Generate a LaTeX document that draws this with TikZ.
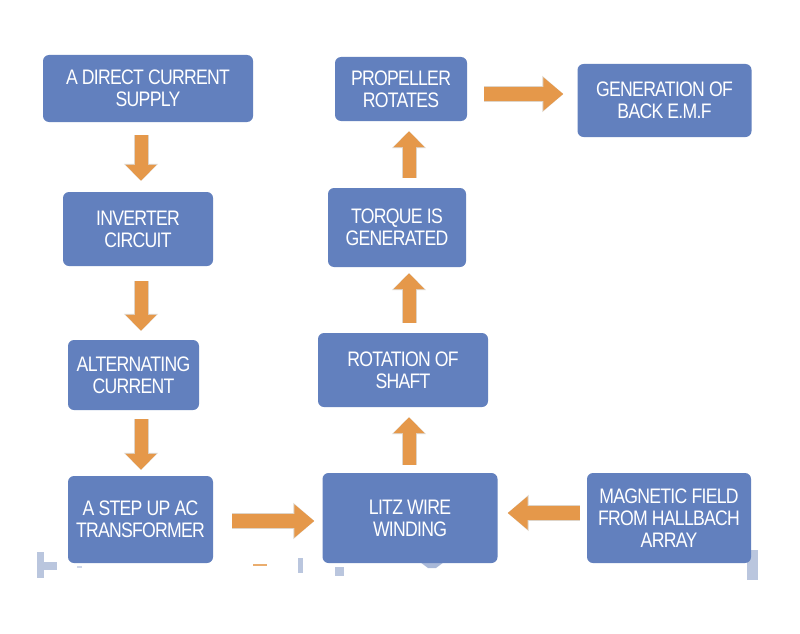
\documentclass[tikz,border=0pt]{standalone}
\usepackage{fontspec}
\setmainfont{Liberation Sans}[FakeStretch=0.84,LetterSpace=-3.5]
\usetikzlibrary{arrows.meta}
\definecolor{boxblue}{RGB}{98,128,190}
\definecolor{arrorange}{RGB}{229,152,74}
\definecolor{shadowtan}{RGB}{222,212,200}
\definecolor{faintblue}{RGB}{186,198,222}
\definecolor{tabblue}{RGB}{168,184,216}
\tikzset{
  stagebox/.style={draw=none, fill=boxblue, rounded corners=6pt, text=white,
    align=center, inner sep=2pt, font=\fontsize{21}{22}\selectfont},
  blockvert/.style={line width=13pt, -{Triangle[width=30pt,length=16pt]}, arrorange},
  blockhoriz/.style={line width=14pt, -{Triangle[width=32pt,length=20pt]}, arrorange},
  vshadow/.style={line width=15pt, -{Triangle[width=33pt,length=17pt]}, shadowtan},
  hshadow/.style={line width=16pt, -{Triangle[width=35pt,length=21pt]}, shadowtan},
}
\begin{document}
\begin{tikzpicture}[x=1pt,y=-1pt]
\useasboundingbox[fill=white] (0,0) rectangle (800,634);

% faint remnants along the bottom
\fill[faintblue] (37,552) rectangle (44,578);
\fill[faintblue] (44,562) rectangle (57,570);
\fill[faintblue!70] (77,566) rectangle (82,568);
\fill[arrorange!80] (253,564) rectangle (267,566);
\fill[faintblue] (298,558) rectangle (303,573);
\fill[faintblue] (335,567) rectangle (344,576);
\fill[faintblue] (747,550) rectangle (758,580);
\fill[tabblue] (420,562) -- (444,562) -- (436,568) -- (428,568) -- cycle;

% boxes
\node[stagebox, minimum width=210pt, minimum height=67pt] (dc)   at (148,88.5)  {A DIRECT CURRENT\\SUPPLY};
\node[stagebox, minimum width=150pt, minimum height=74pt] (inv)  at (138,229)   {INVERTER\\CIRCUIT};
\node[stagebox, minimum width=131pt, minimum height=70pt] (ac)   at (133.5,375) {ALTERNATING\\CURRENT};
\node[stagebox, minimum width=145pt, minimum height=87pt] (st)   at (140.5,519.5) {A STEP UP AC\\TRANSFORMER};
\node[stagebox, minimum width=175pt, minimum height=90pt] (litz) at (410,518)   {LITZ WIRE\\WINDING};
\node[stagebox, minimum width=164pt, minimum height=90pt] (mag)  at (669,518)   {MAGNETIC FIELD\\FROM HALLBACH\\ARRAY};
\node[stagebox, minimum width=170pt, minimum height=74pt] (rot)  at (403,370)   {ROTATION OF\\SHAFT};
\node[stagebox, minimum width=138pt, minimum height=79pt] (tq)   at (397,227.5) {TORQUE IS\\GENERATED};
\node[stagebox, minimum width=132pt, minimum height=64pt] (prop) at (401,89)    {PROPELLER\\ROTATES};
\node[stagebox, minimum width=174pt, minimum height=73pt] (emf)  at (664.5,100.5) {GENERATION OF\\BACK E.M.F};

% shadows of block arrows
\begin{scope}[shift={(1.5,1.5)}]
\draw[vshadow, shorten <=13pt, shorten >=11pt] ([xshift=-7pt]dc.south) -- ([xshift=3pt]inv.north);
\draw[vshadow, shorten <=15pt, shorten >=9pt] ([xshift=3pt]inv.south) -- ([xshift=7.5pt]ac.north);
\draw[vshadow, shorten <=9pt, shorten >=6pt] ([xshift=7.5pt]ac.south) -- ([xshift=0.5pt]st.north);
\draw[hshadow, shorten <=19pt, shorten >=8pt] ([yshift=-1.5pt]st.east) -- ([yshift=-3pt]litz.west);
\draw[hshadow, shorten <=7pt, shorten >=10pt] ([yshift=5pt]mag.west) -- ([yshift=5pt]litz.east);
\draw[vshadow, shorten <=8pt, shorten >=10pt] ([xshift=-1pt]litz.north) -- ([xshift=6pt]rot.south);
\draw[vshadow, shorten <=10pt, shorten >=6pt] ([xshift=6pt]rot.north) -- ([xshift=12pt]tq.south);
\draw[vshadow, shorten <=10pt, shorten >=10pt] ([xshift=12pt]tq.north) -- ([xshift=8pt]prop.south);
\draw[hshadow, shorten <=17pt, shorten >=14pt] ([yshift=-5pt]prop.east) -- ([yshift=6.5pt]emf.west);
\end{scope}

% block arrows
\draw[blockvert, shorten <=13pt, shorten >=11pt] ([xshift=-7pt]dc.south) -- ([xshift=3pt]inv.north);
\draw[blockvert, shorten <=15pt, shorten >=9pt] ([xshift=3pt]inv.south) -- ([xshift=7.5pt]ac.north);
\draw[blockvert, shorten <=9pt, shorten >=6pt] ([xshift=7.5pt]ac.south) -- ([xshift=0.5pt]st.north);
\draw[blockhoriz, shorten <=19pt, shorten >=8pt] ([yshift=-1.5pt]st.east) -- ([yshift=-3pt]litz.west);
\draw[blockhoriz, shorten <=7pt, shorten >=10pt] ([yshift=5pt]mag.west) -- ([yshift=5pt]litz.east);
\draw[blockvert, shorten <=8pt, shorten >=10pt] ([xshift=-1pt]litz.north) -- ([xshift=6pt]rot.south);
\draw[blockvert, shorten <=10pt, shorten >=6pt] ([xshift=6pt]rot.north) -- ([xshift=12pt]tq.south);
\draw[blockvert, shorten <=10pt, shorten >=10pt] ([xshift=12pt]tq.north) -- ([xshift=8pt]prop.south);
\draw[blockhoriz, shorten <=17pt, shorten >=14pt] ([yshift=-5pt]prop.east) -- ([yshift=6.5pt]emf.west);
\end{tikzpicture}
\end{document}
